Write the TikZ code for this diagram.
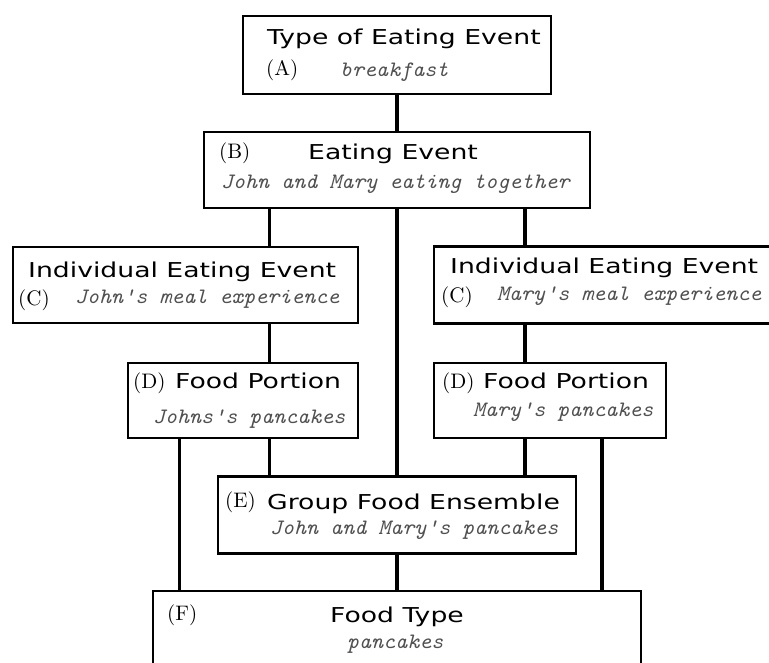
\documentclass[tikz,border=0pt]{standalone}
\usepackage{fontspec}
\newfontfamily\boxsans[FakeStretch=1.3]{DejaVu Sans}
\newfontfamily\boxmono{lmmono10-italic}[Extension=.otf, FakeStretch=1.04]
\newfontfamily\boxlab{lmroman10-regular}[Extension=.otf]
\definecolor{subgray}{HTML}{505050}
\begin{document}
\begin{tikzpicture}[x=1pt,y=-1pt,
  box/.style={draw, line width=2.4pt, inner sep=0pt, outer sep=0pt},
  conn/.style={line width=3.4pt},
  ttl/.style={anchor=base west, inner sep=0pt, font=\boxsans\fontsize{20.5}{24}\selectfont},
  lab/.style={anchor=base west, inner sep=0pt, font=\boxlab\fontsize{21}{24}\selectfont},
  sub/.style={anchor=base west, inner sep=0pt, text=subgray, font=\boxmono\fontsize{22}{26}\selectfont}]
\useasboundingbox (0,0) rectangle (769,662);
\clip (0,0) rectangle (769,662);
% columns
\coordinate (colL) at (269.5,0);
\coordinate (colR) at (525,0);
\coordinate (colFL) at (179.5,0);
\coordinate (colFR) at (602,0);
% boxes
\node[box, minimum width=308pt, minimum height=78pt] (A) at (397,55) {};
\node[box, minimum width=386pt, minimum height=76pt] (B) at (397,170) {};
\node[box, minimum width=345pt, minimum height=76pt] (Cl) at (185.5,285) {};
\node[box, minimum width=366pt, minimum height=77pt] (Cr) at (617,285) {};
\node[box, minimum width=230pt, minimum height=75pt] (Dl) at (243,400.5) {};
\node[box, minimum width=232pt, minimum height=75pt] (Dr) at (550,400.5) {};
\node[box, minimum width=358pt, minimum height=77pt] (E) at (397,515) {};
\node[box, minimum width=488pt, minimum height=110pt] (F) at (397,646) {};
% connectors
\draw[conn] (A.south) -- (B.north);
\draw[conn] (B.south -| colL) -- (Cl.north -| colL);
\draw[conn] (B.south -| colR) -- (Cr.north -| colR);
\draw[conn] (B.south) -- (E.north);
\draw[conn] (Cl.south -| colL) -- (Dl.north -| colL);
\draw[conn] (Cr.south -| colR) -- (Dr.north -| colR);
\draw[conn] (Dl.south -| colL) -- (E.north -| colL);
\draw[conn] (Dr.south -| colR) -- (E.north -| colR);
\draw[conn] (Dl.south -| colFL) -- (F.north -| colFL);
\draw[conn] (Dr.south -| colFR) -- (F.north -| colFR);
\draw[conn] (E.south) -- (F.north);
% texts A
\node[ttl] (At) at (267,44) {Type of Eating Event};
\node[lab] (Al) at (266,75) {(A)};
\node[sub] (As) at (340,76) {breakfast};
% B
\node[lab] (Bl) at (219,158) {(B)};
\node[ttl] (Bt) at (308,159) {Eating Event};
\node[sub] (Bs) at (221,188) {John and Mary eating together};
% C left
\node[ttl] (Clt) at (28,277) {Individual Eating Event};
\node[lab] (Cll) at (18,305) {(C)};
\node[sub] (Cls) at (75,303) {John's meal experience};
% C right
\node[ttl] (Crt) at (450,273) {Individual Eating Event};
\node[lab] (Crl) at (441,302) {(C)};
\node[sub] (Crs) at (497,300) {Mary's meal experience};
% D left
\node[lab] (Dll) at (133,388) {(D)};
\node[ttl] (Dlt) at (175,388) {Food Portion};
\node[sub] (Dls) at (153,423) {Johns's pancakes};
% D right
\node[lab] (Drl) at (442,388) {(D)};
\node[ttl] (Drt) at (483,388) {Food Portion};
\node[sub] (Drs) at (473,416) {Mary's pancakes};
% E
\node[lab] (El) at (225,507) {(E)};
\node[ttl] (Et) at (267,509) {Group Food Ensemble};
\node[sub] (Es) at (270,534) {John and Mary's pancakes};
% F
\node[lab] (Fl) at (167,620) {(F)};
\node[ttl] (Ft) at (330,622) {Food Type};
\node[sub] (Fs) at (347,648) {pancakes};
\end{tikzpicture}
\end{document}
